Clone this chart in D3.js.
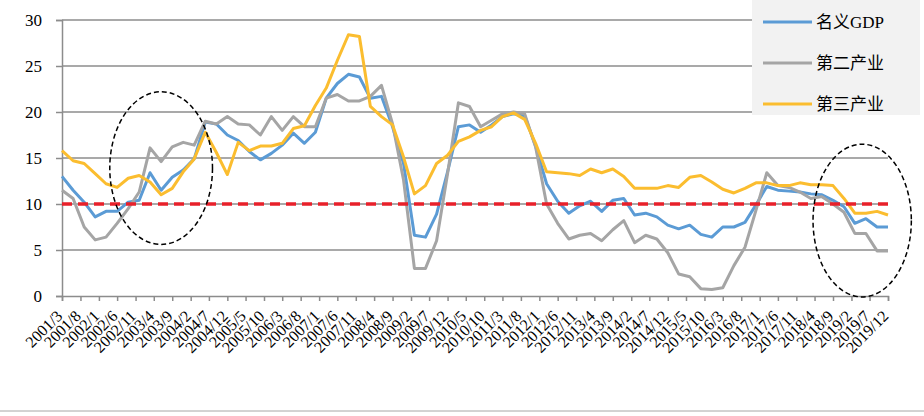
<!DOCTYPE html>
<html>
<head>
<meta charset="utf-8">
<script src="https://cdn.jsdelivr.net/npm/d3@7"></script>
<style>
  body { margin: 0; background: #fff; }
  svg { display: block; }
</style>
</head>
<body>
<div id="container"></div>
<script>
// quarterly growth, %, 2001Q1 - 2019Q4
const years = d3.range(2001, 2020)
const quarterMonths = [3, 6, 9, 12]

const nominalGdp = [13.0, 11.5, 10.2, 8.6, 9.2, 9.2, 10.2, 10.4, 13.4, 11.5, 12.9, 13.7, 14.9, 18.9, 18.7, 17.5,
    16.9, 15.7, 14.8, 15.5, 16.4, 17.7, 16.6, 17.8, 21.5, 23.1, 24.1, 23.8, 21.5, 21.7, 18.4, 14.4,
    6.6, 6.4, 8.9, 13.5, 18.4, 18.6, 17.8, 18.6, 19.5, 19.8, 19.6, 16.3, 12.2, 10.3, 9.0, 9.8,
    10.3, 9.2, 10.4, 10.6, 8.8, 9.0, 8.6, 7.7, 7.3, 7.7, 6.7, 6.4, 7.5, 7.5, 8.0, 9.9,
    11.9, 11.5, 11.4, 11.3, 11.1, 11.0, 10.4, 9.7, 7.9, 8.4, 7.5, 7.5]
const secondary = [11.5, 10.6, 7.5, 6.1, 6.4, 7.9, 9.5, 11.3, 16.1, 14.6, 16.2, 16.7, 16.4, 19.0, 18.7, 19.5,
    18.7, 18.6, 17.5, 19.5, 18.0, 19.5, 18.4, 18.4, 21.5, 21.9, 21.2, 21.2, 21.7, 22.9, 18.7, 12.6,
    3.0, 3.0, 6.0, 13.3, 21.0, 20.6, 18.4, 19.1, 19.8, 20.0, 19.8, 16.2, 10.0, 7.9, 6.2, 6.6,
    6.8, 6.0, 7.2, 8.2, 5.8, 6.6, 6.2, 4.7, 2.4, 2.1, 0.8, 0.7, 0.9, 3.3, 5.3, 9.3,
    13.4, 12.0, 11.8, 11.3, 10.6, 10.8, 10.0, 9.1, 6.8, 6.8, 4.9, 4.9]
const tertiary = [15.8, 14.7, 14.4, 13.3, 12.2, 11.8, 12.8, 13.1, 12.4, 11.0, 11.7, 13.5, 14.9, 17.8, 15.6, 13.2,
    16.7, 15.8, 16.3, 16.3, 16.6, 18.2, 18.5, 20.7, 22.6, 25.6, 28.4, 28.2, 20.6, 19.5, 18.6, 15.1,
    11.1, 12.0, 14.4, 15.3, 16.8, 17.3, 18.0, 18.4, 19.5, 19.9, 19.2, 16.6, 13.5, 13.4, 13.3, 13.1,
    13.8, 13.4, 13.8, 13.0, 11.7, 11.7, 11.7, 12.0, 11.8, 12.9, 13.1, 12.4, 11.6, 11.2, 11.7, 12.3,
    12.3, 12.0, 12.0, 12.3, 12.1, 12.1, 12.0, 10.6, 9.0, 9.0, 9.2, 8.8]

const seriesNames = ["名义GDP", "第二产业", "第三产业"]
const seriesColors = ["#5b9bd5", "#a5a5a5", "#fbbd2f"]

const xTickLabels = ["2001/3", "2001/8", "2002/1", "2002/6", "2002/11", "2003/4", "2003/9", "2004/2", "2004/7",
    "2004/12", "2005/5", "2005/10", "2006/3", "2006/8", "2007/1", "2007/6", "2007/11", "2008/4", "2008/9",
    "2009/2", "2009/7", "2009/12", "2010/5", "2010/10", "2011/3", "2011/8", "2012/1", "2012/6", "2012/11",
    "2013/4", "2013/9", "2014/2", "2014/7", "2014/12", "2015/5", "2015/10", "2016/3", "2016/8", "2017/1",
    "2017/6", "2017/11", "2018/4", "2018/9", "2019/2", "2019/7", "2019/12"]
const yTicks = [0, 5, 10, 15, 20, 25, 30]
const refLine = 10

// dashed ellipses: centre month, centre value, half width in months, half height in value units
const highlights = [
    { month: "2003/6", value: 13.9, rxMonths: 14, ryValue: 8.3 },
    { month: "2019/5", value: 8.2, rxMonths: 13.4, ryValue: 8.3 },
]

const width = 924,
    height = 416
const padding = { top: 20, right: 36, bottom: 120, left: 62 }

const parseMonth = d3.timeParse("%Y/%m")
const dates = []
years.forEach(y => quarterMonths.forEach(m => dates.push(parseMonth(`${y}/${m}`))))

const series = seriesNames.map((name, k) => ({
    name: name,
    color: seriesColors[k],
    values: [nominalGdp, secondary, tertiary][k].map((v, i) => ({ date: dates[i], value: v }))
}))

const svg = d3.select("#container")
    .append("svg")
    .attr("width", width)
    .attr("height", height)

const xScale = d3.scaleTime()
    .domain([parseMonth("2001/3"), parseMonth("2019/12")])
    .range([padding.left, width - padding.right])

const yScale = d3.scaleLinear()
    .domain([0, 30])
    .range([height - padding.bottom, padding.top])

const gridColor = "#8c8c8c"
const serif = "'Liberation Serif', 'Times New Roman', 'Noto Sans CJK SC', serif"

// horizontal grid
svg.append("g").attr("class", "grid")
    .selectAll("line")
    .data(yTicks.filter(d => d > 0))
    .enter()
    .append("line")
    .attr("x1", padding.left)
    .attr("x2", width - padding.right)
    .attr("y1", d => yScale(d))
    .attr("y2", d => yScale(d))
    .attr("stroke", gridColor)
    .attr("stroke-width", 1.5)

// y axis
const yAxis = d3.axisLeft(yScale)
    .tickValues(yTicks)
    .tickSize(6)
    .tickPadding(14)
svg.append("g").attr("id", "y-axis")
    .attr("transform", `translate(${padding.left},0)`)
    .call(yAxis)
    .call(g => g.selectAll("line, path").attr("stroke", gridColor).attr("stroke-width", 1.5))
    .call(g => g.selectAll("text").attr("font-family", serif).attr("font-size", 17).attr("fill", "#000"))

// x axis
const xAxis = d3.axisBottom(xScale)
    .tickValues(xTickLabels.map(parseMonth))
    .tickFormat(d3.timeFormat("%Y/%-m"))
    .tickSize(5)
svg.append("g").attr("id", "x-axis")
    .attr("transform", `translate(0,${height - padding.bottom})`)
    .call(xAxis)
    .call(g => g.selectAll("line, path").attr("stroke", gridColor).attr("stroke-width", 1.5))
    .call(g => g.selectAll("text")
        .attr("font-family", serif)
        .attr("font-size", 16)
        .attr("fill", "#000")
        .attr("text-anchor", "end")
        .attr("dy", "0.35em")
        .attr("transform", "translate(-3,17) rotate(-45)")
        .attr("y", 0)
        .attr("x", 0))

// lines
const line = d3.line()
    .x(d => xScale(d.date))
    .y(d => yScale(d.value))

svg.append("g").attr("class", "series")
    .selectAll("path")
    .data(series)
    .enter()
    .append("path")
    .attr("d", d => line(d.values))
    .attr("fill", "none")
    .attr("stroke", d => d.color)
    .attr("stroke-width", 3)
    .attr("stroke-linejoin", "round")

// red dashed 10% line
svg.append("line")
    .attr("x1", padding.left)
    .attr("x2", width - padding.right)
    .attr("y1", yScale(refLine))
    .attr("y2", yScale(refLine))
    .attr("stroke", "#e8202a")
    .attr("stroke-width", 3.5)
    .attr("stroke-dasharray", "10,6")

// highlight ellipses
const monthPx = xScale(parseMonth("2002/3")) - xScale(parseMonth("2001/3"))
svg.append("g").attr("class", "highlights")
    .selectAll("ellipse")
    .data(highlights)
    .enter()
    .append("ellipse")
    .attr("cx", d => xScale(parseMonth(d.month)))
    .attr("cy", d => yScale(d.value))
    .attr("rx", d => d.rxMonths * monthPx / 12)
    .attr("ry", d => yScale(0) - yScale(d.ryValue))
    .attr("fill", "none")
    .attr("stroke", "#000")
    .attr("stroke-width", 1.5)
    .attr("stroke-dasharray", "5,3")

// legend
const legend = svg.append("g").attr("id", "legend")
    .attr("transform", "translate(752,0)")
legend.append("rect")
    .attr("width", 168)
    .attr("height", 115)
    .attr("fill", "#f2f2f2")
const item = legend.selectAll("g.item")
    .data(series)
    .enter()
    .append("g")
    .attr("class", "item")
    .attr("transform", (d, i) => `translate(0,${22 + i * 41})`)
item.append("line")
    .attr("x1", 11)
    .attr("x2", 60)
    .attr("stroke", d => d.color)
    .attr("stroke-width", 3)
item.append("text")
    .attr("x", 64)
    .attr("dy", "0.35em")
    .attr("font-family", serif)
    .attr("font-size", 17)
    .text(d => d.name)

// bottom rule
svg.append("line")
    .attr("x1", 0)
    .attr("x2", width)
    .attr("y1", 411)
    .attr("y2", 411)
    .attr("stroke", "#a6a6a6")
    .attr("stroke-width", 1)
</script>
</body>
</html>
